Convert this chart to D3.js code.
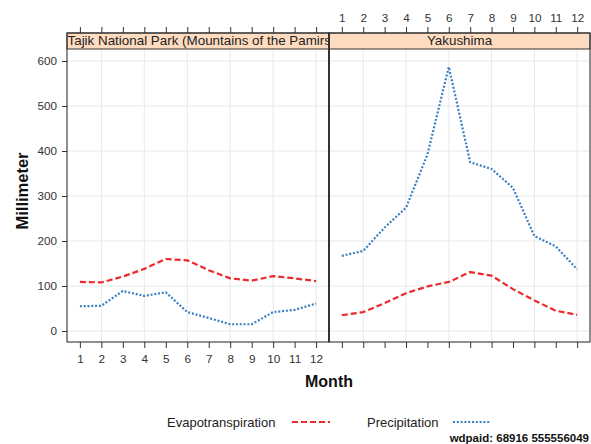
<!DOCTYPE html>
<html><head><meta charset="utf-8">
<script src="https://cdn.jsdelivr.net/npm/d3@7"></script>
<style>body{margin:0;background:#fff}svg{display:block;font-family:"Liberation Sans",Arial,sans-serif}</style>
</head><body><svg id="c" width="591" height="444"></svg>
<script>
const months = [1,2,3,4,5,6,7,8,9,10,11,12];
const panels = ["Tajik National Park (Mountains of the Pamirs)", "Yakushima"];
const tajikEvap = [109,108,121,138,160,157,135,117,112,122,117,111];
const tajikPrecip = [55,56,89,78,86,42,29,15,15,42,47,61];
const yakuEvap = [35,42,62,84,99,109,131,123,93,68,45,36];
const yakuPrecip = [167,178,230,274,392,587,375,360,318,211,188,137];
const yTicks = [0,100,200,300,400,500,600];
const seriesNames = ["Evapotranspiration","Precipitation"];
const colors = ["#ec2a2c","#3a7fc1"];
const dashes = ["6,3","2,1.8"];

const svg = d3.select("#c");
const plotTop = 49, plotBottom = 342, stripTop = 33;
const panelX = [[67,329],[329,590]];
const y = d3.scaleLinear().domain([0,600]).range([331,61]);
const data = [[tajikEvap,tajikPrecip],[yakuEvap,yakuPrecip]];
const axisCol = "#333";
const FONT = "Liberation Sans, Arial, sans-serif";

panelX.forEach((px,i)=>{
  const x = d3.scaleLinear().domain([0.4,12.6]).range(px);
  const g = svg.append("g");
  g.selectAll(".gy").data(yTicks).join("line")
    .attr("x1",px[0]).attr("x2",px[1]).attr("y1",d=>y(d)).attr("y2",d=>y(d))
    .attr("stroke","#e8e8e8").attr("stroke-width",1);
  g.selectAll(".gx").data(months.filter(m=>m%2===0)).join("line")
    .attr("x1",d=>x(d)).attr("x2",d=>x(d)).attr("y1",plotTop).attr("y2",plotBottom)
    .attr("stroke","#e8e8e8").attr("stroke-width",1);
  data[i].forEach((vals,s)=>{
    const line = d3.line().x((d,k)=>x(months[k])).y(d=>y(d));
    g.append("path").attr("d",line(vals)).attr("fill","none")
      .attr("stroke",colors[s]).attr("stroke-width",2.2).attr("stroke-dasharray",dashes[s])
      .attr("stroke-linejoin","round");
  });
  const clipId = "clip"+i;
  svg.append("clipPath").attr("id",clipId).append("rect")
    .attr("x",px[0]).attr("y",stripTop).attr("width",px[1]-px[0]).attr("height",plotTop-stripTop);
  g.append("rect").attr("x",px[0]).attr("y",stripTop).attr("width",px[1]-px[0]).attr("height",plotTop-stripTop)
    .attr("fill","#ffdcc0").attr("stroke",axisCol).attr("stroke-width",1);
  const st = g.append("text").attr("clip-path",`url(#${clipId})`)
    .attr("y",plotTop-4).attr("font-size",13.4).attr("fill","#222").text(panels[i]);
  if(i===0) st.attr("x",px[0]+0.5).attr("text-anchor","start");
  else st.attr("x",(px[0]+px[1])/2).attr("text-anchor","middle");
  g.append("rect").attr("x",px[0]).attr("y",stripTop).attr("width",px[1]-px[0]).attr("height",plotBottom-stripTop)
    .attr("fill","none").attr("stroke",axisCol).attr("stroke-width",1.1);
  const bAxis = d3.axisBottom(x).tickValues(months).tickSize(6).tickPadding(7).tickFormat(i===0?d3.format("d"):()=>"");
  const tAxis = d3.axisTop(x).tickValues(months).tickSize(6).tickPadding(5).tickFormat(i===1?d3.format("d"):()=>"");
  const ba = g.append("g").attr("transform",`translate(0,${plotBottom})`).call(bAxis);
  const ta = g.append("g").attr("transform",`translate(0,${stripTop})`).call(tAxis);
  [ba,ta].forEach(a=>{
    a.select(".domain").remove();
    a.selectAll("line").attr("stroke",axisCol);
    a.selectAll("text").attr("font-size",11.7).attr("fill",axisCol).attr("font-family",FONT);
  });
});
svg.append("line").attr("x1",329).attr("x2",329).attr("y1",stripTop).attr("y2",plotBottom).attr("stroke",axisCol).attr("stroke-width",2);

const ya = svg.append("g").attr("transform","translate(67,0)").call(d3.axisLeft(y).tickValues(yTicks).tickSize(5).tickPadding(5));
ya.select(".domain").remove();
ya.selectAll("line").attr("stroke",axisCol);
ya.selectAll("text").attr("font-size",11.7).attr("fill",axisCol).attr("font-family",FONT);

svg.append("text").attr("x",329).attr("y",387).attr("text-anchor","middle")
  .attr("font-size",16).attr("font-weight","bold").attr("fill","#111").text("Month");
svg.append("text").attr("transform","translate(28,191) rotate(-90)").attr("text-anchor","middle")
  .attr("font-size",16.5).attr("font-weight","bold").attr("fill","#111").text("Millimeter");

const leg = [{t:seriesNames[0],tx:167,lx:[292,330]},{t:seriesNames[1],tx:367,lx:[453,491]}];
leg.forEach((l,s)=>{
  svg.append("text").attr("x",l.tx).attr("y",427).attr("font-size",13).attr("fill","#222").text(l.t);
  svg.append("line").attr("x1",l.lx[0]).attr("x2",l.lx[1]).attr("y1",422).attr("y2",422)
    .attr("stroke",colors[s]).attr("stroke-width",2.2).attr("stroke-dasharray",dashes[s]);
});
svg.append("text").attr("x",589).attr("y",442).attr("text-anchor","end")
  .attr("font-size",11.5).attr("font-weight","bold").attr("fill","#111").text("wdpaid: 68916 555556049");
</script></body></html>
